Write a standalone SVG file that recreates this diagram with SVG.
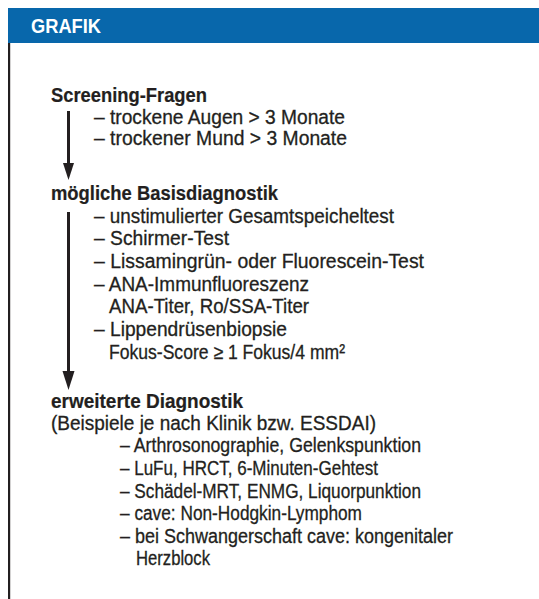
<svg xmlns="http://www.w3.org/2000/svg" width="539" height="599" viewBox="0 0 539 599">
<style>
text{font-family:"Liberation Sans",Arial,sans-serif;fill:#231f20;font-size:20px;stroke:#231f20;stroke-width:0.3}
.h{font-weight:bold;stroke-width:0.2}
.t{fill:#fff;stroke:none;font-weight:bold;font-size:19.5px}
</style>
<rect x="0" y="0" width="539" height="599" fill="#fff"/>
<g id="header">
<rect x="8" y="8" width="531" height="35" fill="#0867ab"/>
<text class="t" x="31" y="33" textLength="70" lengthAdjust="spacingAndGlyphs">GRAFIK</text>
</g>
<rect x="8" y="43" width="2.2" height="556" fill="#231f20"/>
<g id="connectors">
<line x1="68.5" y1="111" x2="68.5" y2="165" stroke="#231f20" stroke-width="3"/>
<path d="M63,163 L74,163 L68.5,180 Z" fill="#231f20"/>
<line x1="68.5" y1="212" x2="68.5" y2="374" stroke="#231f20" stroke-width="3"/>
<path d="M62.5,371 L74.5,371 L68.5,390 Z" fill="#231f20"/>
</g>
<g id="screening">
<text class="h" x="51" y="102" textLength="156" lengthAdjust="spacingAndGlyphs">Screening-Fragen</text>
<text x="94" y="123.5" textLength="251" lengthAdjust="spacingAndGlyphs">– trockene Augen &gt; 3 Monate</text>
<text x="94" y="145" textLength="253" lengthAdjust="spacingAndGlyphs">– trockener Mund &gt; 3 Monate</text>
</g>
<g id="basis">
<text class="h" x="51" y="200" textLength="227" lengthAdjust="spacingAndGlyphs">mögliche Basisdiagnostik</text>
<text x="94" y="222.5" textLength="300" lengthAdjust="spacingAndGlyphs">– unstimulierter Gesamtspeicheltest</text>
<text x="94" y="245" textLength="135" lengthAdjust="spacingAndGlyphs">– Schirmer-Test</text>
<text x="94" y="268" textLength="330" lengthAdjust="spacingAndGlyphs">– Lissamingrün- oder Fluorescein-Test</text>
<text x="94" y="290.5" textLength="215" lengthAdjust="spacingAndGlyphs">– ANA-Immunfluoreszenz</text>
<text x="109" y="313" textLength="200" lengthAdjust="spacingAndGlyphs">ANA-Titer, Ro/SSA-Titer</text>
<text x="94" y="336" textLength="193" lengthAdjust="spacingAndGlyphs">– Lippendrüsenbiopsie</text>
<text x="109" y="358.5" textLength="236" lengthAdjust="spacingAndGlyphs">Fokus-Score ≥ 1 Fokus/4 mm²</text>
</g>
<g id="erweitert">
<text class="h" x="51" y="408" textLength="192" lengthAdjust="spacingAndGlyphs">erweiterte Diagnostik</text>
<text x="51" y="430" textLength="325" lengthAdjust="spacingAndGlyphs">(Beispiele je nach Klinik bzw. ESSDAI)</text>
<text x="120" y="452" textLength="301" lengthAdjust="spacingAndGlyphs">– Arthrosonographie, Gelenkspunktion</text>
<text x="120" y="475" textLength="258" lengthAdjust="spacingAndGlyphs">– LuFu, HRCT, 6-Minuten-Gehtest</text>
<text x="120" y="497.5" textLength="301" lengthAdjust="spacingAndGlyphs">– Schädel-MRT, ENMG, Liquorpunktion</text>
<text x="120" y="520" textLength="242" lengthAdjust="spacingAndGlyphs">– cave: Non-Hodgkin-Lymphom</text>
<text x="120" y="542.5" textLength="333" lengthAdjust="spacingAndGlyphs">– bei Schwangerschaft cave: kongenitaler</text>
<text x="136" y="565" textLength="74" lengthAdjust="spacingAndGlyphs">Herzblock</text>
</g>
</svg>
